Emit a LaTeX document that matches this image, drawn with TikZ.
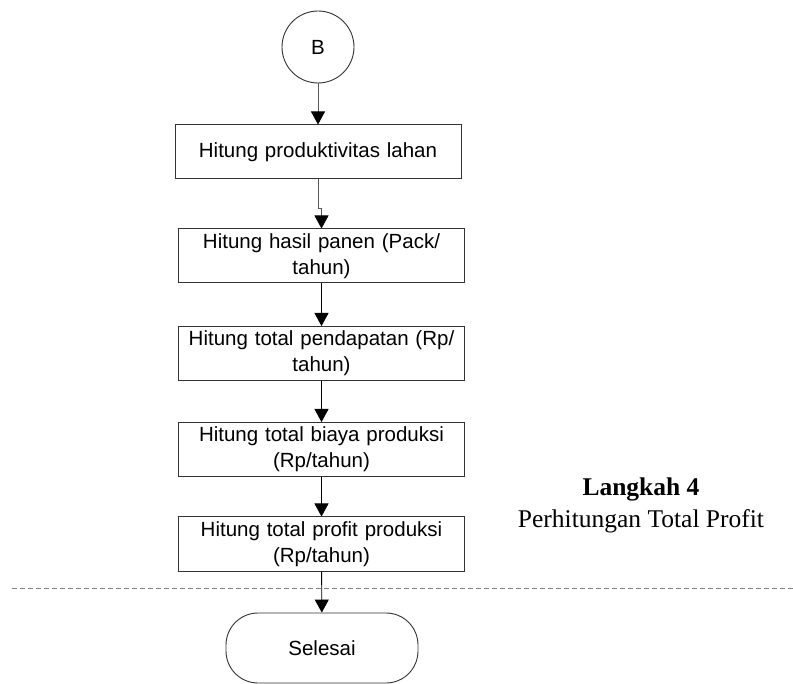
\documentclass[tikz,border=0pt]{standalone}
\usepackage{fontspec}
\setmainfont{Liberation Sans}
\newfontfamily\timesfont{Liberation Serif}
\usetikzlibrary{arrows.meta,positioning}

\begin{document}
\begin{tikzpicture}[x=1pt, y=-1pt,
  every node/.style={font=\fontsize{20.5}{26}\selectfont},
  proc/.style={draw=black!80, line width=1pt, minimum width=286pt, minimum height=54pt,
    text width=282pt, align=center, inner sep=0pt},
  link/.style={-{Triangle[length=13pt,width=14pt,color=black,fill=black]}, line width=0.9pt},
  step label/.style={font=\timesfont\fontsize{25.5}{30}\selectfont, anchor=base}]
  \useasboundingbox (0,0) rectangle (793,684);

  % start connector and process steps
  \node[draw=black!80, line width=0.9pt, circle, minimum size=72pt, inner sep=0pt] (conB) at (318,47) {B};
  \node[proc] (prod) at (318,152) {Hitung produktivitas lahan};
  \node[proc] (panen) at (321.5,256) {Hitung hasil panen (Pack/\\tahun)};
  \node[proc] (pendapatan) at (321.5,353.5) {Hitung total pendapatan (Rp/\\tahun)};
  \node[proc] (biaya) at (321.5,449.5) {Hitung total biaya produksi\\(Rp/tahun)};
  \node[proc] (profit) at (321.5,544) {Hitung total profit produksi\\(Rp/tahun)};
  \node[draw=black!80, line width=0.9pt, rounded corners=32pt, minimum width=192pt, minimum height=70pt]
    (selesai) at (322,648) {Selesai};

  % step boundary
  \draw[gray, line width=1pt, dash pattern=on 5pt off 3pt] (12,588) -- (793,588);
  \node[step label] (langkah) at (641,496) {\bfseries Langkah 4};
  \node[step label] (hitungprofit) at (641,528) {Perhitungan Total Profit};

  % flow
  \draw[link, black!65] (conB) -- (prod);
  \draw[link, black!65] (prod.south) -- ++(0,29) -| (panen.north);
  \draw[link] (panen) -- (pendapatan);
  \draw[link] (pendapatan) -- (biaya);
  \draw[link] (biaya) -- (profit);
  \draw[link] (profit) -- (selesai);
\end{tikzpicture}
\end{document}
